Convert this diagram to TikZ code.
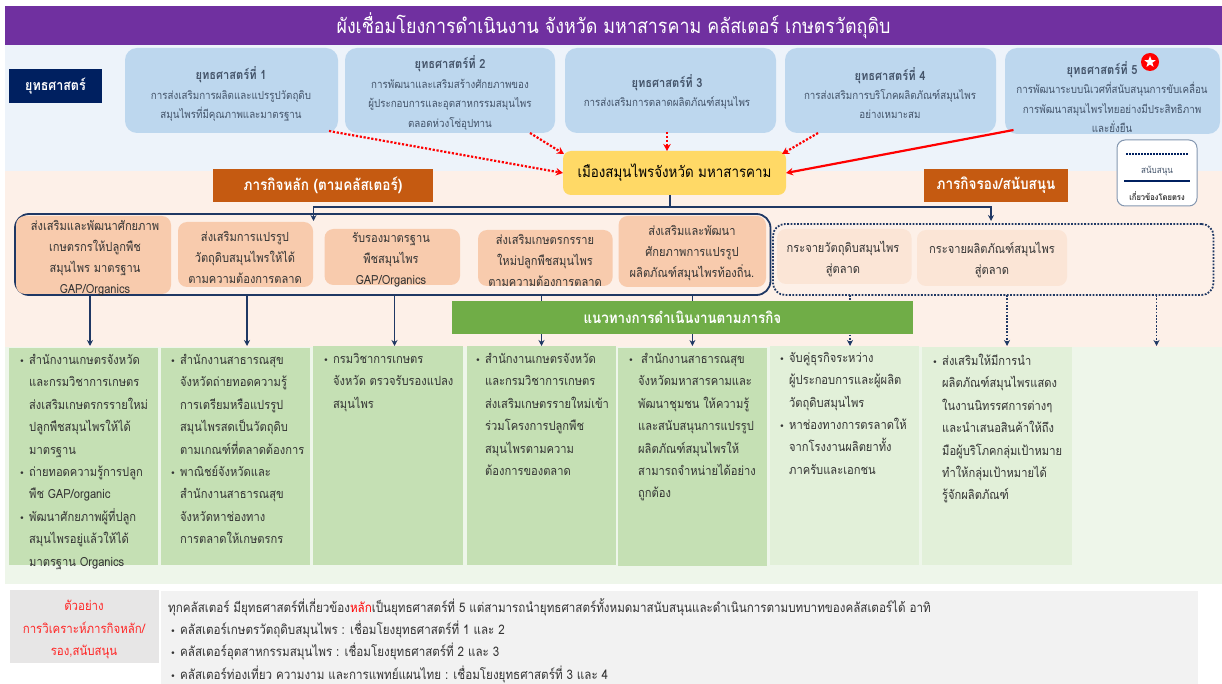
\documentclass[tikz,border=0pt]{standalone}
\usepackage{fontspec}
\setmainfont[Script=Thai,FakeStretch=0.88]{Loma}
\newfontfamily\bulfont{DejaVu Sans}
\usetikzlibrary{arrows.meta,shapes.geometric}
\definecolor{purplebar}{HTML}{7030A0}
\definecolor{bandblue}{HTML}{EDF3FA}
\definecolor{bandpeach}{HTML}{FDF0E8}
\definecolor{bandgreen}{HTML}{EEF6EA}
\definecolor{navy}{HTML}{002060}
\definecolor{linenavy}{HTML}{1F3864}
\definecolor{skybox}{HTML}{BDD7EE}
\definecolor{yellowbox}{HTML}{FFD966}
\definecolor{orangehead}{HTML}{C55A11}
\definecolor{peachbox}{HTML}{F8CBAD}
\definecolor{paleorange}{HTML}{FBE5D6}
\definecolor{greenbar}{HTML}{70AD47}
\definecolor{greenbox}{HTML}{C5E0B4}
\definecolor{palegreen}{HTML}{E2F0D9}
\definecolor{grayleft}{HTML}{E7E6E6}
\definecolor{grayright}{HTML}{F2F2F2}
\definecolor{bodygray}{HTML}{44546A}
\definecolor{darktext}{HTML}{333333}
\definecolor{legendedge}{HTML}{8497B0}
\newcommand{\BoxN}[7]{\node[#2,minimum width={(#5-#3)*1pt},minimum height={(#6-#4)*1pt}] (#1) at ({(#3+#5)/2},{(#4+#6)/2}) {#7};}
\newcommand{\bul}{\llap{{\bulfont\fontsize{9}{9}\selectfont •}\hspace{4.5pt}}}
\newcommand{\stt}{\bfseries\fontsize{12.6}{19.4}\selectfont}
\tikzset{
  base/.style={inner sep=0pt,outer sep=0pt,draw=none},
  plain/.style={base,rectangle},
  sbox/.style={base,fill=skybox,rounded corners=12pt},
  stext/.style={inner sep=0pt,align=center,text=bodygray,font=\fontsize{11.1}{19.4}\selectfont},
  mbox/.style={base,fill=peachbox,rounded corners=9pt},
  dbox/.style={base,fill=paleorange,rounded corners=9pt},
  mtext/.style={inner sep=0pt,align=center,text=darktext,font=\fontsize{12.6}{21}\selectfont},
  gtext/.style={inner sep=0pt,anchor=north west,align=left,text=darktext,font=\fontsize{12.65}{22.4}\selectfont,execute at begin node={\rule{0pt}{19.5pt}}},
  botline/.style={inner sep=0pt,anchor=west,text=darktext,font=\fontsize{13.2}{14}\selectfont},
  redline/.style={red,line width=2.2pt,-{Stealth[length=7pt,width=7.5pt]}},
  reddots/.style={redline,dash pattern=on 2.2pt off 1.7pt},
  navyline/.style={linenavy,line width=1.8pt,-{Stealth[length=6pt,width=6pt]}},
  navydots/.style={navyline,dash pattern=on 1.8pt off 1.5pt}
}
\begin{document}
\begin{tikzpicture}[x=1pt,y=-1pt]
\useasboundingbox (0,0) rectangle (1222,684);
% bands
\BoxN{bandB}{plain,fill=bandblue}{5}{45}{1222}{171}{}
\BoxN{bandP}{plain,fill=bandpeach}{5}{171}{1222}{347}{}
\BoxN{bandG}{plain,fill=bandgreen}{5}{347}{1222}{584}{}
\BoxN{titlebar}{plain,fill=purplebar,text=white,font=\fontsize{20.3}{22}\selectfont}{5}{6}{1222}{45}{ผังเชื่อมโยงการดำเนินงาน จังหวัด มหาสารคาม คลัสเตอร์ เกษตรวัตถุดิบ}
\BoxN{label}{plain,fill=navy,text=white,font=\bfseries\fontsize{14.2}{16}\selectfont}{9}{69}{102}{103}{ยุทธศาสตร์}
% strategies
\BoxN{S1}{sbox}{125}{48}{338}{133}{}
\BoxN{S2}{sbox}{345}{48}{555}{133}{}
\BoxN{S3}{sbox}{565}{48}{776}{133}{}
\BoxN{S4}{sbox}{785}{48}{996}{133}{}
\BoxN{S5}{sbox}{1005}{48}{1220}{134}{}
\node[stext] (S1t) at (231,94) {{\stt ยุทธศาสตร์ที่ 1}\\การส่งเสริมการผลิตและแปรรูปวัตถุดิบ\\สมุนไพรที่มีคุณภาพและมาตรฐาน};
\node[stext] (S2t) at (450,93) {{\stt ยุทธศาสตร์ที่ 2}\\การพัฒนาและเสริมสร้างศักยภาพของ\\ผู้ประกอบการและอุตสาหกรรมสมุนไพร\\ตลอดห่วงโซ่อุปทาน};
\node[stext] (S3t) at (667,92) {{\stt ยุทธศาสตร์ที่ 3}\\การส่งเสริมการตลาดผลิตภัณฑ์สมุนไพร};
\node[stext] (S4t) at (890,93) {{\stt ยุทธศาสตร์ที่ 4}\\การส่งเสริมการบริโภคผลิตภัณฑ์สมุนไพร\\อย่างเหมาะสม};
\node[stext] (S5t) at (1112,97) {{\stt ยุทธศาสตร์ที่ 5\hspace*{20pt}}\\การพัฒนาระบบนิเวศที่สนับสนุนการขับเคลื่อน\\การพัฒนาสมุนไพรไทยอย่างมีประสิทธิภาพ\\และยั่งยืน};
\node[circle,fill=red,minimum size=18pt,inner sep=0pt] (starbg) at (1150,62) {};
\node[star,star points=5,star point ratio=2.4,fill=white,minimum size=12pt,inner sep=0pt] (starfg) at (starbg) {};
% city
\BoxN{city}{base,fill=yellowbox,rounded corners=8pt,text=black,font=\fontsize{15.2}{17}\selectfont}{563}{151}{786}{195}{เมืองสมุนไพรจังหวัด มหาสารคาม}
\draw[reddots] ([xshift=-9pt,yshift=2pt]S1.south east) -- (city.west);
\draw[reddots] ([xshift=80pt]S2.south) -- ([xshift=1pt,yshift=-3pt]city.north west);
\draw[reddots] ([xshift=-3.5pt,yshift=1pt]S3.south) -- ([xshift=-7.5pt]city.north);
\draw[reddots] ([xshift=-72.5pt]S4.south) -- ([xshift=-4pt,yshift=-3pt]city.north east);
\draw[redline] ([xshift=8.5pt,yshift=4pt]S5.south west) -- (city.east);
% mission headers
\BoxN{head1}{plain,fill=orangehead,text=white,font=\bfseries\fontsize{15.4}{17}\selectfont}{213}{169}{433}{202}{ภารกิจหลัก (ตามคลัสเตอร์)}
\BoxN{head2}{plain,fill=orangehead,text=white,font=\bfseries\fontsize{15.4}{17}\selectfont}{924}{169}{1068}{202}{ภารกิจรอง/สนับสนุน}
% legend
\BoxN{legend}{base,draw=legendedge,line width=1pt,fill=white,rounded corners=8pt}{1117}{140}{1197}{206}{}
\coordinate (lgA) at (1126,154); \coordinate (lgB) at (1188,154);
\coordinate (lgC) at (1124,181); \coordinate (lgD) at (1190,181);
\draw[navy,line width=2pt,dash pattern=on 2pt off 1pt] (lgA) -- (lgB);
\draw[navy,line width=2.4pt] (lgC) -- (lgD);
\node[inner sep=0pt,text=bodygray,font=\fontsize{9.2}{10}\selectfont] (lgT1) at (1157,171) {สนับสนุน};
\node[inner sep=0pt,text=darktext,font=\bfseries\fontsize{8.6}{10}\selectfont] (lgT2) at (1157,196) {เกี่ยวข้องโดยตรง};
% mission containers and boxes
\BoxN{mainC}{base,draw=linenavy,line width=1.8pt,rounded corners=14pt}{15}{214}{770.5}{295}{}
\BoxN{dotC}{base,draw=linenavy,line width=1.8pt,dash pattern=on 1.8pt off 1.5pt,rounded corners=12pt}{773}{224}{1213.5}{295}{}
\BoxN{M1}{mbox}{16}{216}{171}{294}{}
\BoxN{M2}{mbox}{178}{222}{313}{287}{}
\BoxN{M3}{mbox}{324.5}{229}{460}{285}{}
\BoxN{M4}{mbox}{478}{230}{612.6}{286}{}
\BoxN{M5}{mbox}{618.6}{216}{766}{287}{}
\BoxN{D1}{dbox}{777}{229}{911.5}{284}{}
\BoxN{D2}{dbox}{917}{230}{1067}{286}{}
\node[mtext] (M1t) at (95,258.5) {ส่งเสริมและพัฒนาศักยภาพ\\เกษตรกรให้ปลูกพืช\\สมุนไพร มาตรฐาน\\GAP/Organics};
\node[mtext] (M2t) at (245,257) {ส่งเสริมการแปรรูป\\วัตถุดิบสมุนไพรให้ได้\\ตามความต้องการตลาด};
\node[mtext] (M3t) at (391,259.5) {รับรองมาตรฐาน\\พืชสมุนไพร\\GAP/Organics};
\node[mtext] (M4t) at (545,260) {ส่งเสริมเกษตรกรราย\\ใหม่ปลูกพืชสมุนไพร\\ตามความต้องการตลาด};
\node[mtext] (M5t) at (692,253) {ส่งเสริมและพัฒนา\\ศักยภาพการแปรรูป\\ผลิตภัณฑ์สมุนไพรท้องถิ่น.};
\node[mtext] (D1t) at (843,259) {กระจายวัตถุดิบสมุนไพร\\สู่ตลาด};
\node[mtext] (D2t) at (992,260) {กระจายผลิตภัณฑ์สมุนไพร\\สู่ตลาด};
% trunk
\coordinate (tl) at (313.5,221); \coordinate (tr) at (991,221);
\draw[navyline] ([xshift=-4.5pt]city.south) -- ++(0,12) -| (tl);
\draw[navyline] ([xshift=-4.5pt]city.south) -- ++(0,12) -| (tr);
% down arrows
\foreach \n/\x in {a1/90,a2/247,a3/394.5,a4/541.5,a5/692.4}{
  \coordinate (\n) at (\x,346);
  \draw[navyline] (\n |- mainC.south) -- (\n);
}
\foreach \n/\x in {a6/850,a7/1007,a8/1156.5}{
  \coordinate (\n) at (\x,346);
  \draw[navydots] (\n |- dotC.south) -- (\n);
}
\BoxN{bar}{plain,fill=greenbar,text=white,font=\bfseries\fontsize{15.2}{17}\selectfont}{452}{301}{912.7}{334}{แนวทางการดำเนินงานตามภารกิจ}
% green boxes
\BoxN{G1}{plain,fill=greenbox}{9}{348}{158}{565}{}
\BoxN{G2}{plain,fill=greenbox}{161}{348}{310}{565}{}
\BoxN{G3}{plain,fill=greenbox}{313}{346}{463}{565}{}
\BoxN{G4}{plain,fill=greenbox}{467}{346}{616}{565}{}
\BoxN{G5}{plain,fill=greenbox}{618}{348}{767}{566}{}
\BoxN{G6}{plain,fill=palegreen}{770}{346}{919}{565}{}
\BoxN{G7}{plain,fill=palegreen}{922}{347}{1072}{565}{}
\node[gtext] (G1t) at (29,354) {\bul สำนักงานเกษตรจังหวัด\\และกรมวิชาการเกษตร\\ส่งเสริมเกษตรกรรายใหม่\\ปลูกพืชสมุนไพรให้ได้\\มาตรฐาน\\\bul ถ่ายทอดความรู้การปลูก\\พืช GAP/organic\\\bul พัฒนาศักยภาพผู้ที่ปลูก\\สมุนไพรอยู่แล้วให้ได้\\มาตรฐาน Organics};
\node[gtext] (G2t) at (180,354) {\bul สำนักงานสาธารณสุข\\จังหวัดถ่ายทอดความรู้\\การเตรียมหรือแปรรูป\\สมุนไพรสดเป็นวัตถุดิบ\\ตามเกณฑ์ที่ตลาดต้องการ\\\bul พาณิชย์จังหวัดและ\\สำนักงานสาธารณสุข\\จังหวัดหาช่องทาง\\การตลาดให้เกษตรกร};
\node[gtext] (G3t) at (333,353) {\bul กรมวิชาการเกษตร\\จังหวัด ตรวจรับรองแปลง\\สมุนไพร};
\node[gtext] (G4t) at (485,353) {\bul สำนักงานเกษตรจังหวัด\\และกรมวิชาการเกษตร\\ส่งเสริมเกษตรรายใหม่เข้า\\ร่วมโครงการปลูกพืช\\สมุนไพรตามความ\\ต้องการของตลาด};
\node[gtext] (G5t) at (638,353) {\bul\hspace{3pt}สำนักงานสาธารณสุข\\จังหวัดมหาสารคามและ\\พัฒนาชุมชน ให้ความรู้\\และสนับสนุนการแปรรูป\\ผลิตภัณฑ์สมุนไพรให้\\สามารถจำหน่ายได้อย่าง\\ถูกต้อง};
\node[gtext] (G6t) at (789,352) {\bul จับคู่ธุรกิจระหว่าง\\ผู้ประกอบการและผู้ผลิต\\วัตถุดิบสมุนไพร\\\bul หาช่องทางการตรลาดให้\\จากโรงงานผลิตยาทั้ง\\ภาครับและเอกชน};
\node[gtext] (G7t) at (942,354) {\bul ส่งเสริมให้มีการนำ\\ผลิตภัณฑ์สมุนไพรแสดง\\ในงานนิทรรศการต่างๆ\\และนำเสนอสินค้าให้ถึง\\มือผู้บริโภคกลุ่มเป้าหมาย\\ทำให้กลุ่มเป้าหมายได้\\รู้จักผลิตภัณฑ์};
% bottom
\BoxN{botL}{plain,fill=grayleft}{9.5}{590}{159}{663}{}
\BoxN{botR}{plain,fill=grayright}{161}{591}{1198}{684}{}
\node[inner sep=0pt,align=center,text=red!85!white,font=\fontsize{13}{22.4}\selectfont] (botLt) at (84,629.5) {ตัวอย่าง\\การวิเคราะห์ภารกิจหลัก/\\รอง,สนับสนุน};
\node[botline] (b1) at (168,607) {ทุกคลัสเตอร์ มียุทธศาสตร์ที่เกี่ยวข้อง{\color{red}หลัก}เป็นยุทธศาสตร์ที่ 5 แต่สามารถนำยุทธศาสตร์ทั้งหมดมาสนับสนุนและดำเนินการตามบทบาทของคลัสเตอร์ได้ อาทิ};
\node[botline] (b2) at (180,629) {\bul คลัสเตอร์เกษตรวัตถุดิบสมุนไพร : เชื่อมโยงยุทธศาสตร์ที่ 1 และ 2};
\node[botline] (b3) at (180,651) {\bul คลัสเตอร์อุตสาหกรรมสมุนไพร : เชื่อมโยงยุทธศาสตร์ที่ 2 และ 3};
\node[botline] (b4) at (180,674) {\bul คลัสเตอร์ท่องเที่ยว ความงาม และการแพทย์แผนไทย : เชื่อมโยงยุทธศาสตร์ที่ 3 และ 4};
\end{tikzpicture}
\end{document}
